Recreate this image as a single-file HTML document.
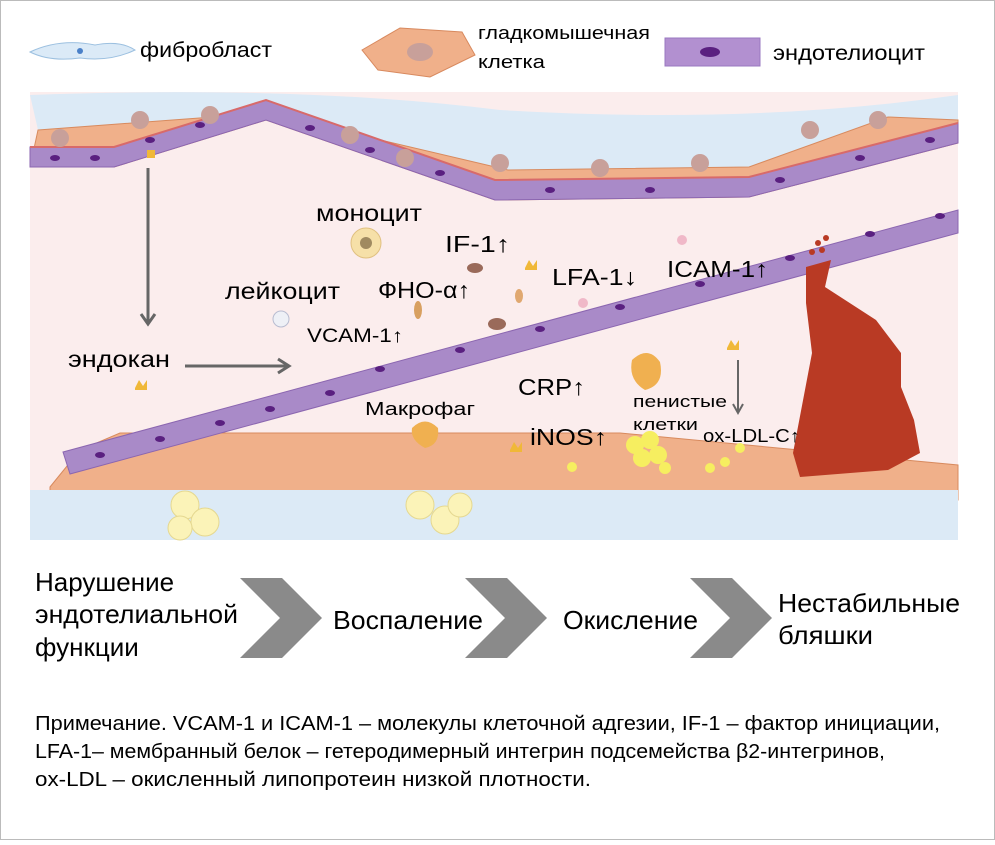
<!DOCTYPE html>
<html><head><meta charset="utf-8"><style>
body{margin:0;background:#fff;}
.f{font-family:"Liberation Sans","DejaVu Sans",sans-serif;}
</style></head><body>
<svg width="995" height="840" viewBox="0 0 995 840" xmlns="http://www.w3.org/2000/svg" class="f">
<rect x="0.5" y="0.5" width="994" height="839" fill="#fff" stroke="#bbb"/>
<path d="M30,52 Q60,38 95,45 Q120,40 135,50 Q110,62 80,58 Q50,62 30,52Z" fill="#dbeaf7" stroke="#9cc0e0"/>
<circle cx="80" cy="51" r="3" fill="#4a80c8"/>
<text x="140" y="57" font-size="21" textLength="132" lengthAdjust="spacingAndGlyphs">фибробласт</text>
<path d="M362,50 L400,28 L462,32 L475,55 L430,77 L378,70Z" fill="#f0b08a" stroke="#d8895e"/>
<ellipse cx="420" cy="52" rx="13" ry="9" fill="#c8a09a"/>
<text x="478" y="39" font-size="18" textLength="172" lengthAdjust="spacingAndGlyphs">гладкомышечная</text>
<text x="478" y="68" font-size="18" textLength="67" lengthAdjust="spacingAndGlyphs">клетка</text>
<rect x="665" y="38" width="95" height="28" fill="#b290d0" stroke="#9a78c0"/>
<ellipse cx="710" cy="52" rx="10" ry="5" fill="#5a2080"/>
<text x="773" y="60" font-size="21" textLength="152" lengthAdjust="spacingAndGlyphs">эндотелиоцит</text>
<path d="M30,92 L958,92 L958,540 L30,540Z" fill="#fbeded"/>
<path d="M30,95 Q300,85 500,110 Q750,125 958,95 L958,143 L888,117 L749,167 L508,170 L266,113 L38,130Z" fill="#dceaf6"/>
<path d="M38,130 L266,113 L508,170 L749,167 L888,117 L958,120 L958,143 L749,197 L495,200 L266,120 L114,167 L30,167Z" fill="#f0b08a" stroke="#d88a5e"/>
<path d="M30,147 L114,147 L266,100 L495,180 L749,177 L958,123 L958,143 L749,197 L495,200 L266,120 L114,167 L30,167Z" fill="#a98ac8" stroke="#8b66b0"/>
<path d="M30,147 L114,147 L266,100 L495,180 L749,177 L958,123" fill="none" stroke="#d86a6a" stroke-width="2"/>
<g fill="#c8a09a"><circle cx="60" cy="138" r="9"/><circle cx="140" cy="120" r="9"/><circle cx="210" cy="115" r="9"/><circle cx="350" cy="135" r="9"/><circle cx="405" cy="158" r="9"/><circle cx="500" cy="163" r="9"/><circle cx="600" cy="168" r="9"/><circle cx="700" cy="163" r="9"/><circle cx="810" cy="130" r="9"/><circle cx="878" cy="120" r="9"/></g>
<g fill="#5a2080"><ellipse cx="55" cy="158" rx="5" ry="3"/><ellipse cx="95" cy="158" rx="5" ry="3"/><ellipse cx="150" cy="140" rx="5" ry="3"/><ellipse cx="200" cy="125" rx="5" ry="3"/><ellipse cx="310" cy="128" rx="5" ry="3"/><ellipse cx="370" cy="150" rx="5" ry="3"/><ellipse cx="440" cy="173" rx="5" ry="3"/><ellipse cx="550" cy="190" rx="5" ry="3"/><ellipse cx="650" cy="190" rx="5" ry="3"/><ellipse cx="780" cy="180" rx="5" ry="3"/><ellipse cx="860" cy="158" rx="5" ry="3"/><ellipse cx="930" cy="140" rx="5" ry="3"/></g>
<path d="M50,487 L80,450 L120,433 L620,433 L958,465 L958,500 L50,500Z" fill="#f0b08a" stroke="#d88a5e"/>
<path d="M63,452 L958,210 L958,233 L70,474Z" fill="#a98ac8" stroke="#8b66b0"/>
<g fill="#5a2080"><ellipse cx="100" cy="455" rx="5" ry="3"/><ellipse cx="160" cy="439" rx="5" ry="3"/><ellipse cx="220" cy="423" rx="5" ry="3"/><ellipse cx="270" cy="409" rx="5" ry="3"/><ellipse cx="330" cy="393" rx="5" ry="3"/><ellipse cx="380" cy="369" rx="5" ry="3"/><ellipse cx="460" cy="350" rx="5" ry="3"/><ellipse cx="540" cy="329" rx="5" ry="3"/><ellipse cx="620" cy="307" rx="5" ry="3"/><ellipse cx="700" cy="284" rx="5" ry="3"/><ellipse cx="790" cy="258" rx="5" ry="3"/><ellipse cx="870" cy="234" rx="5" ry="3"/><ellipse cx="940" cy="216" rx="5" ry="3"/></g>
<path d="M30,490 L958,490 L958,540 L30,540Z" fill="#dceaf6"/>
<g fill="#fbf3b8" stroke="#e5d890"><circle cx="185" cy="505" r="14"/><circle cx="205" cy="522" r="14"/><circle cx="180" cy="528" r="12"/><circle cx="420" cy="505" r="14"/><circle cx="445" cy="520" r="14"/><circle cx="460" cy="505" r="12"/></g>
<path d="M806,267 L831,260 L825,287 L876,320 L901,353 L901,387 L914,420 L920,453 L888,470 L800,477 L793,453 L812,353 L806,303Z" fill="#b93a24"/>
<g fill="#b93a24"><circle cx="818" cy="243" r="3"/><circle cx="826" cy="238" r="3"/><circle cx="822" cy="250" r="3"/><circle cx="812" cy="252" r="3"/></g>
<circle cx="366" cy="243" r="15" fill="#f6e0a8" stroke="#e0c080"/><circle cx="366" cy="243" r="6" fill="#a08a60"/>
<circle cx="281" cy="319" r="8" fill="#eef0f6" stroke="#b8bcd0"/>
<ellipse cx="475" cy="268" rx="8" ry="5" fill="#9a6a5a"/>
<ellipse cx="497" cy="324" rx="9" ry="6" fill="#9a6a5a"/>
<ellipse cx="519" cy="296" rx="4" ry="7" fill="#e0a870"/>
<ellipse cx="418" cy="310" rx="4" ry="9" fill="#d8a060"/>
<circle cx="682" cy="240" r="5" fill="#f0b8c8"/><circle cx="583" cy="303" r="5" fill="#f0b8c8"/>
<path d="M632,360 Q648,345 660,362 Q665,385 645,390 Q628,380 632,360Z" fill="#f0b050"/>
<path d="M412,428 Q425,415 438,428 Q440,445 425,448 Q410,440 412,428Z" fill="#f0b050"/>
<g fill="#f6ee60"><circle cx="635" cy="445" r="9"/><circle cx="650" cy="440" r="9"/><circle cx="642" cy="458" r="9"/><circle cx="658" cy="455" r="9"/><circle cx="665" cy="468" r="6"/><circle cx="572" cy="467" r="5"/><circle cx="740" cy="448" r="5"/><circle cx="725" cy="462" r="5"/><circle cx="710" cy="468" r="5"/></g>
<g fill="#f0b838"><path d="M147,150 h8 v8 h-8z"/><path d="M135,388 l4,-8 4,6 4,-6 v10 h-12z"/><path d="M525,268 l4,-8 4,6 4,-6 v10 h-12z"/><path d="M727,348 l4,-8 4,6 4,-6 v10 h-12z"/><path d="M510,450 l4,-8 4,6 4,-6 v10 h-12z"/></g>
<g stroke="#666" stroke-width="3" fill="none"><line x1="148" y1="168" x2="148" y2="322"/><polyline points="141,314 148,324 155,314"/><line x1="185" y1="366" x2="288" y2="366"/><polyline points="278,359 289,366 278,373"/></g>
<g stroke="#666" stroke-width="2" fill="none"><line x1="738" y1="360" x2="738" y2="412"/><polyline points="733,404 738,413 743,404"/></g>
<g font-size="23">
<text x="316" y="221" textLength="106" lengthAdjust="spacingAndGlyphs">моноцит</text>
<text x="445" y="252" textLength="65" lengthAdjust="spacingAndGlyphs">IF-1↑</text>
<text x="552" y="285" textLength="85" lengthAdjust="spacingAndGlyphs">LFA-1↓</text>
<text x="667" y="277" textLength="101" lengthAdjust="spacingAndGlyphs">ICAM-1↑</text>
<text x="225" y="299" textLength="115" lengthAdjust="spacingAndGlyphs">лейкоцит</text>
<text x="378" y="298" textLength="92" lengthAdjust="spacingAndGlyphs">ФНО-α↑</text>
<text x="68" y="367" textLength="102" lengthAdjust="spacingAndGlyphs">эндокан</text>
<text x="518" y="395" textLength="67" lengthAdjust="spacingAndGlyphs">CRP↑</text>
<text x="530" y="445" textLength="77" lengthAdjust="spacingAndGlyphs">iNOS↑</text>
</g>
<text x="307" y="342" font-size="19" textLength="96" lengthAdjust="spacingAndGlyphs">VCAM-1↑</text>
<text x="365" y="415" font-size="18" textLength="110" lengthAdjust="spacingAndGlyphs">Макрофаг</text>
<text x="633" y="407" font-size="17" textLength="94" lengthAdjust="spacingAndGlyphs">пенистые</text>
<text x="633" y="430" font-size="17" textLength="65" lengthAdjust="spacingAndGlyphs">клетки</text>
<text x="703" y="442" font-size="18" textLength="97" lengthAdjust="spacingAndGlyphs">ox-LDL-C↑</text>
<g font-size="26">
<text x="35" y="591">Нарушение</text>
<text x="35" y="623" textLength="203" lengthAdjust="spacingAndGlyphs">эндотелиальной</text>
<text x="35" y="656">функции</text>
<text x="333" y="629" textLength="150" lengthAdjust="spacingAndGlyphs">Воспаление</text>
<text x="563" y="629" textLength="135" lengthAdjust="spacingAndGlyphs">Окисление</text>
<text x="778" y="612" textLength="182" lengthAdjust="spacingAndGlyphs">Нестабильные</text>
<text x="778" y="644" textLength="95" lengthAdjust="spacingAndGlyphs">бляшки</text>
</g>
<g fill="#8a8a8a"><polygon points="240,578 282,578 322,618 282,658 240,658 280,618"/><polygon points="465,578 507,578 547,618 507,658 465,658 505,618"/><polygon points="690,578 732,578 772,618 732,658 690,658 730,618"/></g>
<g font-size="20">
<text x="35" y="730" textLength="905" lengthAdjust="spacingAndGlyphs">Примечание. VCAM-1 и ICAM-1 – молекулы клеточной адгезии, IF-1 – фактор инициации,</text>
<text x="35" y="758" textLength="850" lengthAdjust="spacingAndGlyphs">LFA-1– мембранный белок – гетеродимерный интегрин подсемейства β2-интегринов,</text>
<text x="35" y="786" textLength="556" lengthAdjust="spacingAndGlyphs">ox-LDL – окисленный липопротеин низкой плотности.</text>
</g>
</svg>
</body></html>
